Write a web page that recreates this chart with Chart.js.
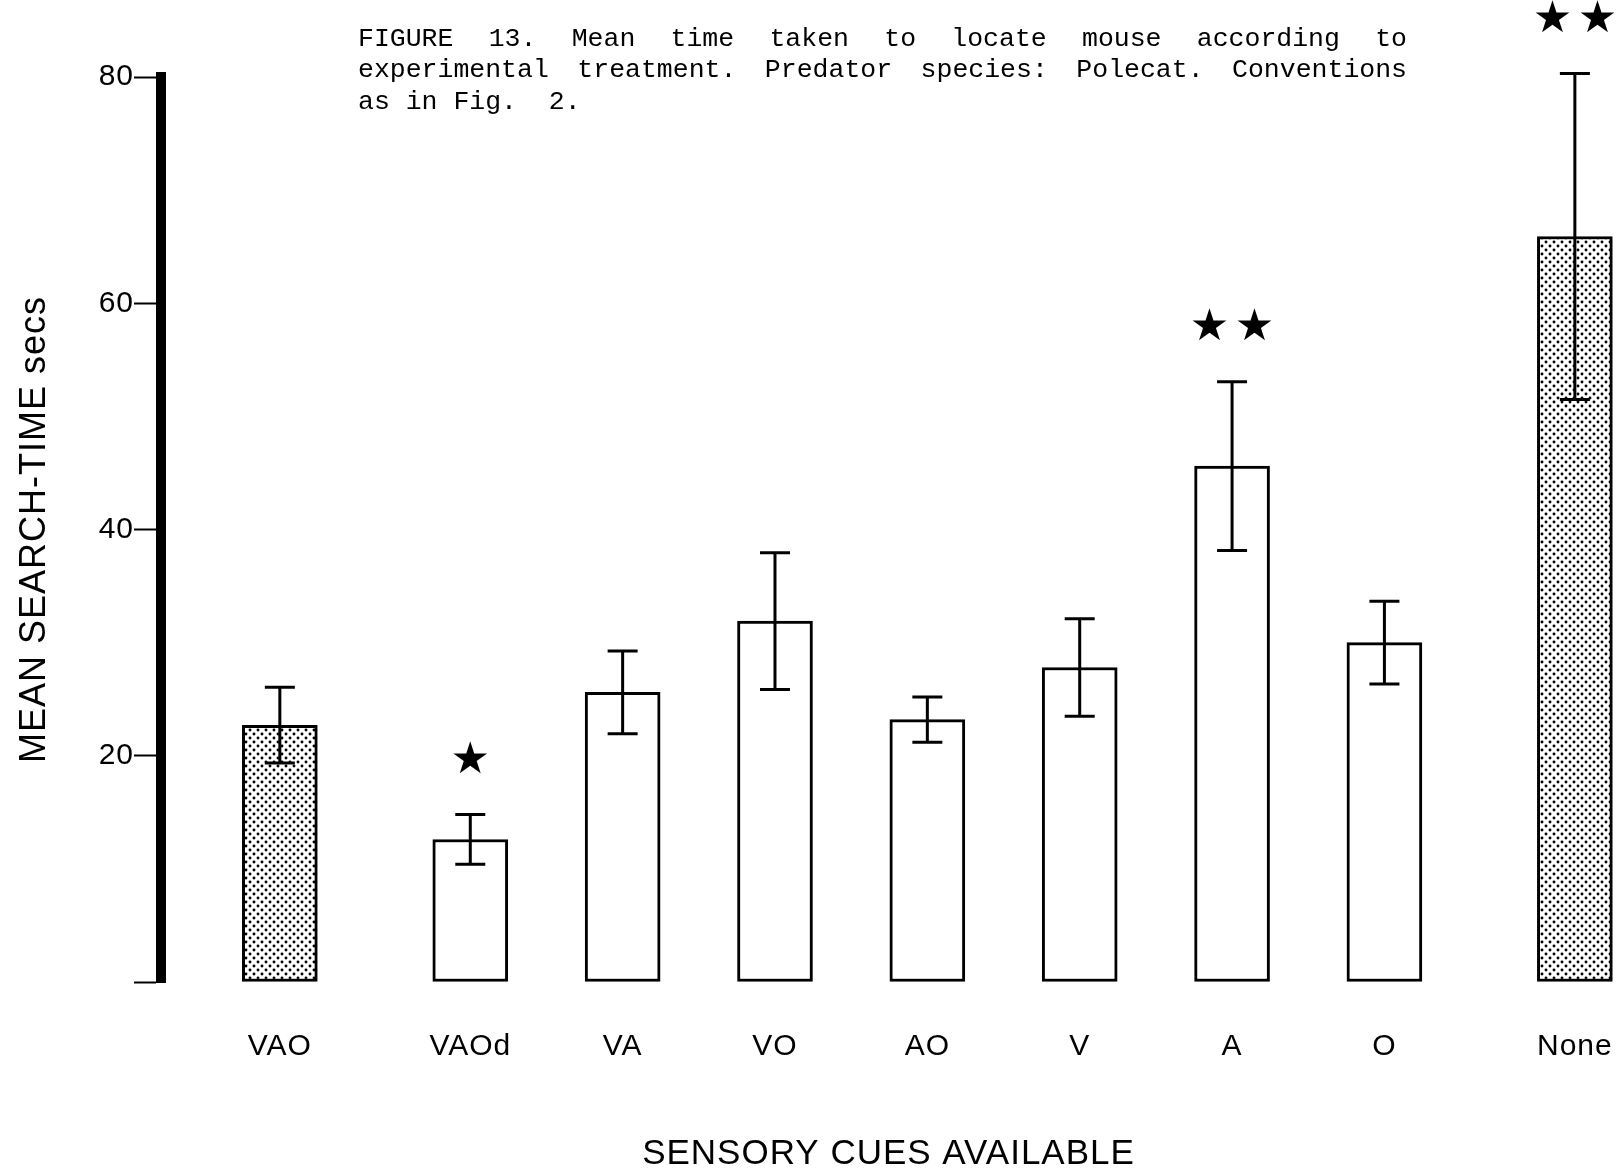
<!DOCTYPE html>
<html><head><meta charset="utf-8">
<script src="https://cdn.jsdelivr.net/npm/chart.js@4/dist/chart.umd.min.js"></script>
<style>
html,body{margin:0;padding:0;background:#fff;}
#wrap{position:relative;width:1616px;height:1169px;overflow:hidden;}
#c{position:absolute;left:0;top:0;}
.cap{position:absolute;left:358px;width:1049px;font-family:'Liberation Mono','Courier New',monospace;font-size:26.5px;line-height:31.5px;color:#000;}
.j{text-align:justify;text-align-last:justify;}
</style></head><body>
<div id="wrap">
<canvas id="c" width="1616" height="1169"></canvas>
<div class="cap j" style="top:23.5px">FIGURE 13. Mean time taken to locate mouse according to</div>
<div class="cap j" style="top:55px">experimental treatment. Predator species: Polecat. Conventions</div>
<div class="cap" style="top:86.5px;white-space:pre">as in Fig.  2.</div>
</div>
<script>
// ---- data ----
const categories = ['VAO', 'VAOd', 'VA', 'VO', 'AO', 'V', 'A', 'O', 'None'];
const groupIndex = [0, 1, 1, 1, 1, 1, 1, 1, 2];          // VAO | treatments | None
const meanTime   = [22.7, 12.6, 25.6, 31.9, 23.2, 27.8, 45.6, 30.0, 65.9];
const stdError   = [3.35, 2.2, 3.65, 6.05, 2.0, 4.3, 7.45, 3.65, 14.4];
const starCount  = [0, 1, 0, 0, 0, 0, 2, 0, 2];
const isControl  = [true, false, false, false, false, false, false, false, true];
const yTicks     = [0, 20, 40, 60, 80];

// slot position on x axis: one unit per bar, plus a quarter-unit gap between groups
const slots = categories.map((c, i) => i + 0.25 * groupIndex[i]);

// stipple pattern for control bars
const pc = document.createElement('canvas'); pc.width = 8; pc.height = 8;
const pctx = pc.getContext('2d');
pctx.fillStyle = '#fff'; pctx.fillRect(0, 0, 8, 8);
pctx.fillStyle = '#000';
[[2, 2], [6, 6]].forEach(([a, b]) => { pctx.beginPath(); pctx.arc(a, b, 1.45, 0, Math.PI * 2); pctx.fill(); });
const ctx = document.getElementById('c').getContext('2d');
const stipple = ctx.createPattern(pc, 'repeat');

Chart.defaults.font.family = "'Liberation Sans', Arial, sans-serif";
Chart.defaults.color = '#000';

const spacingPlugin = {
  id: 'spacing',
  beforeDraw(chart) { chart.ctx.letterSpacing = '1px'; }
};

const errorPlugin = {
  id: 'errbars',
  afterDatasetsDraw(chart) {
    const c = chart.ctx, xs = chart.scales.x, ys = chart.scales.y;
    c.save();
    c.strokeStyle = '#000'; c.lineWidth = 3; c.lineCap = 'butt';
    categories.forEach((cat, i) => {
      const x = xs.getPixelForValue(slots[i]);
      const yt = ys.getPixelForValue(meanTime[i] + stdError[i]);
      const yb = ys.getPixelForValue(meanTime[i] - stdError[i]);
      c.beginPath();
      c.moveTo(x, yt); c.lineTo(x, yb);
      c.moveTo(x - 15, yt); c.lineTo(x + 15, yt);
      c.moveTo(x - 15, yb); c.lineTo(x + 15, yb);
      c.stroke();
      const n = starCount[i];
      if (n > 0) {
        c.fillStyle = '#000';
        c.font = "44px 'DejaVu Sans'";
        c.textAlign = 'center'; c.textBaseline = 'middle';
        c.letterSpacing = '0px';
        for (let k = 0; k < n; k++) {
          const dx = (k - (n - 1) / 2) * 45;
          c.fillText('★', x + dx, yt - 53);
        }
      }
    });
    c.restore();
  }
};

new Chart(ctx, {
  type: 'bar',
  data: {
    datasets: [{
      data: categories.map((c, i) => ({ x: slots[i], y: meanTime[i] })),
      backgroundColor: isControl.map(f => f ? stipple : '#fff'),
      borderColor: '#000',
      borderWidth: 3,
      borderSkipped: false,
      barThickness: 75
    }]
  },
  options: {
    responsive: false,
    animation: false,
    devicePixelRatio: 1,
    layout: { padding: { top: 77, left: 0, right: 0, bottom: 0 } },
    plugins: { legend: { display: false }, tooltip: { enabled: false } },
    scales: {
      x: {
        type: 'linear',
        offset: false,
        min: -0.78, max: 8.77,
        grid: { display: false, drawTicks: false, offset: false },
        border: { display: false },
        afterBuildTicks: s => { s.ticks = slots.map(v => ({ value: v })); },
        ticks: { autoSkip: false, maxRotation: 0, padding: 47, font: { size: 30 }, color: '#000',
                 callback: (v, i) => categories[i] },
        title: { display: true, text: 'SENSORY CUES AVAILABLE', color: '#000',
                 font: { size: 35, lineHeight: 0.8 }, padding: { top: 0, bottom: 1 } },
        afterFit: s => { s.height = 187; s.paddingLeft = 0; s.paddingRight = 0; }
      },
      y: {
        min: 0, max: 80,
        afterBuildTicks: s => { s.ticks = yTicks.map(v => ({ value: v })); },
        ticks: { padding: 0, font: { size: 30 }, color: '#000', callback: v => v === 0 ? '' : String(v) },
        grid: { drawOnChartArea: false, drawTicks: true, tickLength: 27, tickWidth: 2, tickColor: '#000' },
        border: { display: true, width: 10, color: '#000' },
        title: { display: true, text: 'MEAN SEARCH-TIME secs', color: '#000',
                 font: { size: 36, lineHeight: 1 }, padding: { top: 17, bottom: 0 } },
        afterFit: s => { s.width = 161; }
      }
    }
  },
  plugins: [spacingPlugin, errorPlugin]
});
</script>
</body></html>
